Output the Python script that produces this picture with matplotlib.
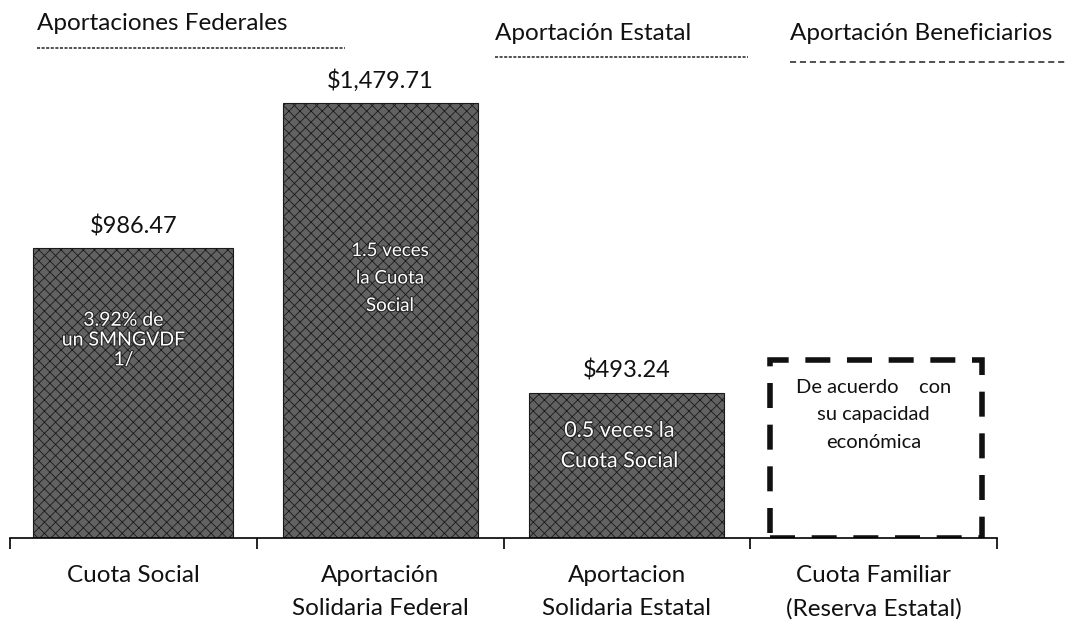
import matplotlib.pyplot as plt
import matplotlib.patheffects as pe

plt.rcParams['font.family'] = ['Lato', 'DejaVu Sans']
plt.rcParams['hatch.linewidth'] = 0.6

# datos
categorias = ['Cuota Social', 'Aportación\nSolidaria Federal',
              'Aportacion\nSolidaria Estatal', 'Cuota Familiar\n(Reserva Estatal)']
montos = [986.47, 1479.71, 493.24]
etiquetas = ['$986.47', '$1,479.71', '$493.24']
textos_barra = ['3.92% de\nun SMNGVDF\n1/', '1.5 veces\nla Cuota\nSocial',
                '0.5 veces la\nCuota Social']
texto_familiar = 'De acuerdo    con\nsu capacidad\neconómica'
altura_familiar = 605
grupos = ['Aportaciones Federales', 'Aportación Estatal', 'Aportación Beneficiarios']

W, H = 1068, 621
fig = plt.figure(figsize=(W / 100, H / 100), dpi=100)
ax = fig.add_axes([10 / W, 1 - 538 / H, 987 / W, 538 / H])
ymax = 1479.71 * 538 / 435
ax.set_xlim(-0.5, 3.5)
ax.set_ylim(0, ymax)
px = ymax / 538  # unidades de datos por pixel


# barras con textura gris
anchos = [0.81, 0.79, 0.79]
for i, v in enumerate(montos):
    ax.bar(i, v, width=anchos[i], color='#626262', edgecolor='#1a1a1a',
           hatch='xxx', linewidth=0.8, zorder=2)

# cuadro punteado de la cuota familiar
ax.bar(3.01, altura_familiar, width=0.86, fill=False, edgecolor='#111111',
       linewidth=4, linestyle=(0, (4.5, 3)), zorder=2)

# etiquetas de valor
for i, (v, t) in enumerate(zip(montos, etiquetas)):
    ax.text(i, v + 22 * px, t, ha='center', va='center',
            fontsize=17, color='#111111')

# textos dentro de las barras (centro x, centro y en pixeles, tamaño, interlineado)
pos_txt = [(-0.04, 340, 14, 1.2), (0.04, 278, 13.5, 1.75), (-0.03, 446, 15.5, 1.65)]
for i, ((dx, ypx, fs, ls), t) in enumerate(zip(pos_txt, textos_barra)):
    ax.text(i + dx, (538 - ypx) * px, t, ha='center', va='center', fontsize=fs,
            color='white', linespacing=ls, zorder=3,
            path_effects=[pe.withStroke(linewidth=1.6, foreground='#2a2a2a')])
ax.text(3, (538 - 415) * px, texto_familiar, ha='center', va='center',
        fontsize=14.5, color='#111111', linespacing=1.75)

# eje
for s in ['top', 'right', 'left']:
    ax.spines[s].set_visible(False)
ax.spines['bottom'].set_linewidth(1.2)
ax.set_yticks([])
ax.set_xticks([-0.5, 0.5, 1.5, 2.5, 3.5])
ax.set_xticklabels([])
ax.tick_params(axis='x', direction='out', length=8, width=1.2)
for i, c in enumerate(categorias):
    ax.text(i, -27 * px, c, ha='center', va='top', fontsize=17.5, color='#111111',
            linespacing=1.7)

# encabezados de grupo
enc_x = [37, 495, 790]
enc_y = [23, 33, 33]
lin = [(37, 345, 48), (495, 748, 57), (790, 1068, 62)]
estilos = [(0, (2, 1)), (0, (2, 1)), (0, (4, 2.5))]
for g, x, y, (x0, x1, yl), ls in zip(grupos, enc_x, enc_y, lin, estilos):
    fig.text(x / W, 1 - y / H, g, ha='left', va='center', fontsize=17.5,
             color='#111111')
    fig.add_artist(plt.Line2D([x0 / W, x1 / W], [1 - yl / H] * 2,
                              color='#222222', linewidth=1.1, linestyle=ls))

fig.savefig('out.png', dpi=100)
